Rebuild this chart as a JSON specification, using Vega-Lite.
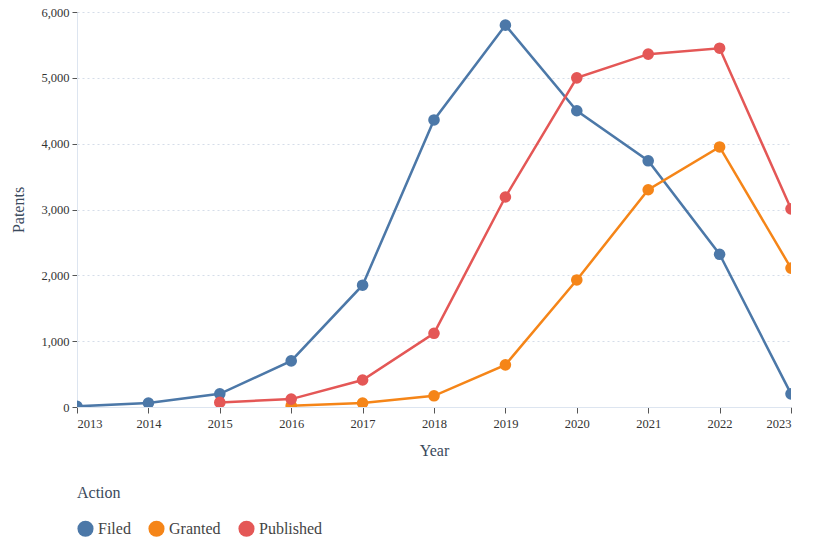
{
  "$schema": "https://vega.github.io/schema/vega-lite/v6.json",
  "autosize": {"type": "none"},
  "width": 714,
  "height": 395,
  "padding": {"left": 77, "top": 12, "right": 36, "bottom": 144},
  "background": "white",
  "config": {
    "font": "Times New Roman, Liberation Serif, serif",
    "view": {"stroke": null}
  },
  "data": {
    "values": [
      {"Year": 2013, "Action": "Filed", "Patents": 10},
      {"Year": 2014, "Action": "Filed", "Patents": 60},
      {"Year": 2015, "Action": "Filed", "Patents": 200},
      {"Year": 2016, "Action": "Filed", "Patents": 700},
      {"Year": 2017, "Action": "Filed", "Patents": 1850},
      {"Year": 2018, "Action": "Filed", "Patents": 4360},
      {"Year": 2019, "Action": "Filed", "Patents": 5800},
      {"Year": 2020, "Action": "Filed", "Patents": 4500},
      {"Year": 2021, "Action": "Filed", "Patents": 3740},
      {"Year": 2022, "Action": "Filed", "Patents": 2320},
      {"Year": 2023, "Action": "Filed", "Patents": 200},
      {"Year": 2016, "Action": "Granted", "Patents": 20},
      {"Year": 2017, "Action": "Granted", "Patents": 60},
      {"Year": 2018, "Action": "Granted", "Patents": 170},
      {"Year": 2019, "Action": "Granted", "Patents": 640},
      {"Year": 2020, "Action": "Granted", "Patents": 1930},
      {"Year": 2021, "Action": "Granted", "Patents": 3300},
      {"Year": 2022, "Action": "Granted", "Patents": 3950},
      {"Year": 2023, "Action": "Granted", "Patents": 2110},
      {"Year": 2015, "Action": "Published", "Patents": 70},
      {"Year": 2016, "Action": "Published", "Patents": 120},
      {"Year": 2017, "Action": "Published", "Patents": 410},
      {"Year": 2018, "Action": "Published", "Patents": 1120},
      {"Year": 2019, "Action": "Published", "Patents": 3190},
      {"Year": 2020, "Action": "Published", "Patents": 5000},
      {"Year": 2021, "Action": "Published", "Patents": 5360},
      {"Year": 2022, "Action": "Published", "Patents": 5450},
      {"Year": 2023, "Action": "Published", "Patents": 3010}
    ]
  },
  "encoding": {
    "x": {
      "field": "Year",
      "type": "quantitative",
      "scale": {"domain": [2013, 2023], "nice": false, "zero": false},
      "axis": {
        "title": "Year",
        "format": "d",
        "values": [2013, 2014, 2015, 2016, 2017, 2018, 2019, 2020, 2021, 2022, 2023],
        "grid": false,
        "domainColor": "#dde5f0",
        "tickColor": "#555555",
        "tickSize": 6,
        "labelFont": "Times New Roman, Liberation Serif, serif",
        "labelColor": "#333333",
        "labelFontSize": 12.5,
        "labelPadding": 4,
        "titleFont": "Times New Roman, Liberation Serif, serif",
        "titleColor": "#3b4a5c",
        "titleFontSize": 16,
        "titleFontWeight": "normal",
        "titlePadding": 13
      }
    },
    "y": {
      "field": "Patents",
      "type": "quantitative",
      "scale": {"domain": [0, 6000], "nice": false},
      "axis": {
        "title": "Patents",
        "values": [0, 1000, 2000, 3000, 4000, 5000, 6000],
        "format": ",.0f",
        "grid": true,
        "gridColor": "#d5dde9",
        "gridDash": [2, 3],
        "domainColor": "#dde5f0",
        "tickColor": "#555555",
        "tickSize": 5,
        "labelFont": "Times New Roman, Liberation Serif, serif",
        "labelColor": "#333333",
        "labelFontSize": 12.5,
        "labelPadding": 3,
        "titleFont": "Times New Roman, Liberation Serif, serif",
        "titleColor": "#3b4a5c",
        "titleFontSize": 16,
        "titleFontWeight": "normal",
        "titlePadding": 14
      }
    },
    "color": {
      "field": "Action",
      "type": "nominal",
      "scale": {"domain": ["Filed", "Granted", "Published"], "range": ["#4c78a8", "#f58518", "#e45756"]},
      "legend": {
        "orient": "bottom",
        "direction": "horizontal",
        "title": "Action",
        "titleFont": "Times New Roman, Liberation Serif, serif",
        "titleFontSize": 16,
        "titleFontWeight": "normal",
        "titleColor": "#3b4a5c",
        "titlePadding": 19,
        "labelFont": "Times New Roman, Liberation Serif, serif",
        "labelFontSize": 16,
        "labelColor": "#444444",
        "labelOffset": 4,
        "symbolType": "circle",
        "symbolSize": 260,
        "symbolOpacity": 1,
        "symbolStrokeWidth": 0,
        "columnPadding": 17,
        "offset": 26
      }
    }
  },
  "layer": [
    {"mark": {"type": "line", "strokeWidth": 2.5, "clip": true}},
    {"mark": {"type": "point", "filled": true, "size": 135, "opacity": 1, "clip": true}}
  ]
}
